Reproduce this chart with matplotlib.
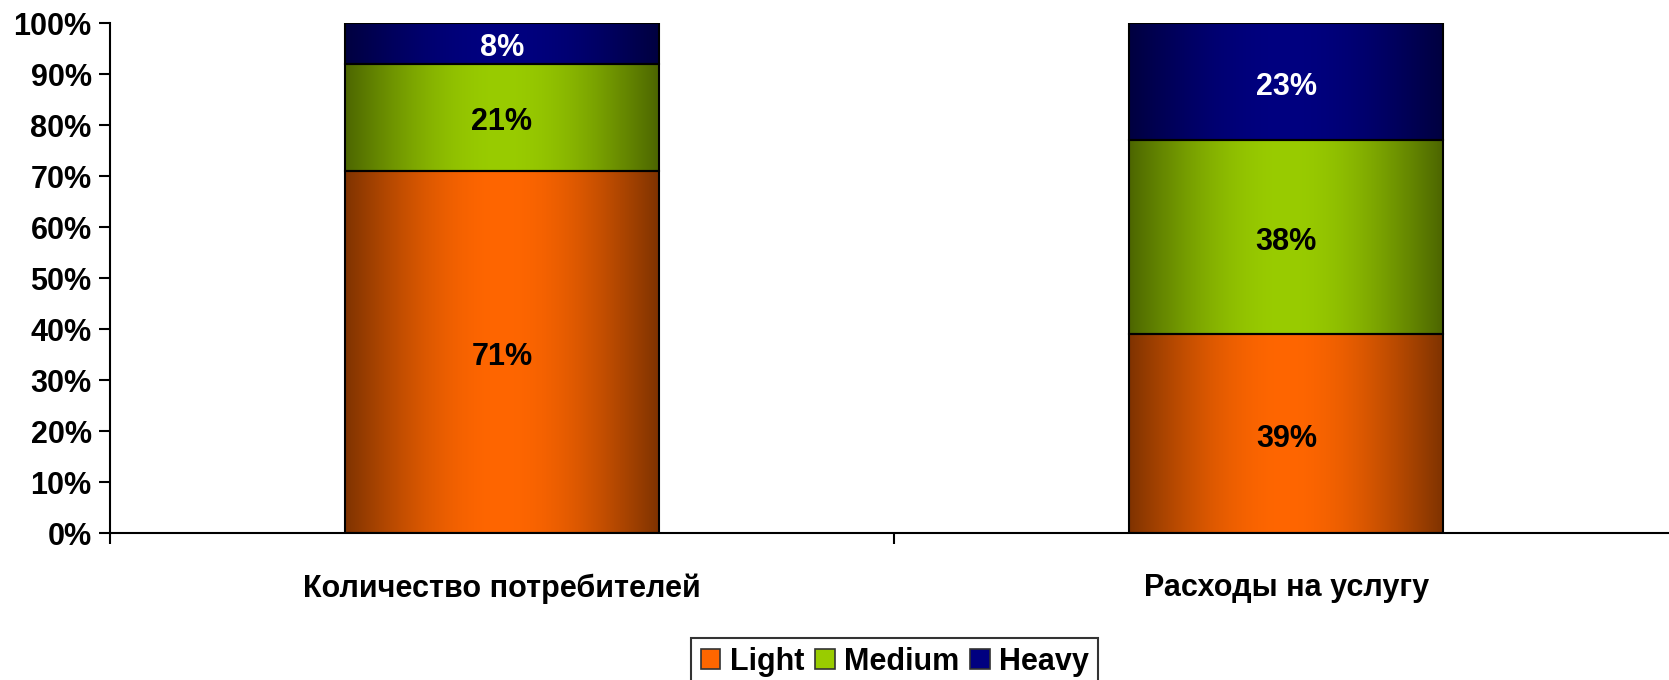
import numpy as np
import matplotlib
matplotlib.use("Agg")
import matplotlib.pyplot as plt
from matplotlib.patches import Patch
from matplotlib.colors import to_rgb

plt.rcParams['font.family'] = ['Liberation Sans', 'DejaVu Sans']
plt.rcParams['font.weight'] = 'bold'

categories = ["Количество потребителей", "Расходы на услугу"]
series_names = ["Light", "Medium", "Heavy"]
light = [71, 39]
medium = [21, 38]
heavy = [8, 23]
y_ticks = [0, 10, 20, 30, 40, 50, 60, 70, 80, 90, 100]
y_tick_labels = [f"{v}%" for v in y_ticks]

colors = ["#FF6600", "#99CC00", "#000080"]
label_colors = ["black", "black", "white"]

FS = 22

fig = plt.figure(figsize=(16.69, 6.80), dpi=100)
ax = fig.add_axes([0.0657, 0.216, 0.940, 0.75])

x = np.arange(len(categories))
width = 0.40

# horizontal shading: dark at the bar edges, bright in the middle
t = np.linspace(0, 1, 256)
shade = 0.5 + 0.5 * np.sin(np.pi * t)

bottoms = np.zeros(len(categories))
for values, color, lc in zip([light, medium, heavy], colors, label_colors):
    bars = ax.bar(x, values, width, bottom=bottoms, facecolor="none",
                  edgecolor="black", linewidth=1.5, zorder=3)
    rgb = np.array(to_rgb(color))
    grad = (shade[:, None] * rgb[None, :])[None, :, :]
    for bar, v, b in zip(bars, values, bottoms):
        x0 = bar.get_x()
        img = ax.imshow(grad, extent=(x0, x0 + width, b, b + v),
                        aspect="auto", zorder=2, interpolation="bilinear")
        img.set_clip_path(bar)
        ax.annotate(f"{v}%", (bar.get_x() + width / 2, b + v / 2),
                    xytext=(0, -3.5), textcoords="offset points",
                    ha="center", va="center", fontsize=FS,
                    fontweight="bold", color=lc, zorder=4)
    bottoms = bottoms + np.array(values)

ax.set_xlim(-0.5, 1.5)
ax.set_ylim(0, 100)
ax.set_yticks(y_ticks)
ax.set_yticklabels(y_tick_labels, fontsize=FS, fontweight="bold")
ax.tick_params(axis="y", length=8, width=1.5, pad=5)

ax.set_xticks(x)
ax.set_xticklabels(categories, fontsize=FS, fontweight="bold")
ax.tick_params(axis="x", which="major", length=0, pad=29)
ax.set_xticks([-0.5, 0.5, 1.5], minor=True)
ax.tick_params(axis="x", which="minor", length=8, width=1.5)

for side in ["top", "right"]:
    ax.spines[side].set_visible(False)
for side in ["left", "bottom"]:
    ax.spines[side].set_linewidth(1.5)

handles = [Patch(facecolor=c, edgecolor="#333333", linewidth=1.2) for c in colors]
leg = fig.legend(handles, series_names, loc="upper center",
                 bbox_to_anchor=(0.536, 0.062), ncol=3, frameon=True,
                 fancybox=False, edgecolor="black",
                 prop={"weight": "bold", "size": FS},
                 handlelength=0.65, handleheight=0.65, handletextpad=0.3,
                 columnspacing=0.35, borderpad=0.3, borderaxespad=0)
leg.get_frame().set_linewidth(1.5)

fig.savefig("out.png", dpi=100)
